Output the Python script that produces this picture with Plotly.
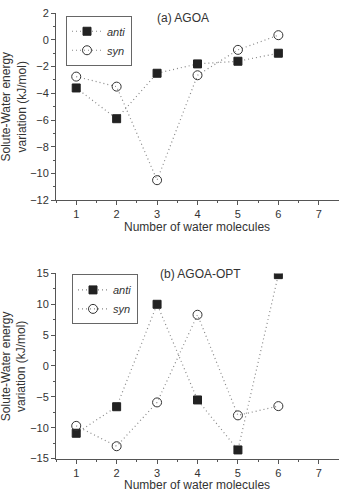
import plotly.graph_objects as go

water = [1, 2, 3, 4, 5, 6]
agoa_anti = [-3.6, -5.9, -2.5, -1.8, -1.6, -1.0]
agoa_syn = [-2.75, -3.5, -10.5, -2.65, -0.75, 0.35]
opt_anti = [-10.9, -6.6, 10.0, -5.5, -13.6, 14.8]
opt_syn = [-9.7, -13.0, -5.9, 8.3, -8.0, -6.5]

FONT = "Liberation Sans, Arial, sans-serif"
TXT = "#333333"
AX = "#555555"
L = 56
W = 339 - L

fig = go.Figure()

def add_pair(anti, syn, xa, ya, leg):
    fig.add_trace(go.Scatter(
        x=water, y=anti, name="<i>anti</i>", mode="lines+markers",
        line=dict(color="#888888", width=1.2, dash="1px,3px"),
        marker=dict(symbol="square", size=8, color="#222222",
                    line=dict(color="#222222", width=1)),
        xaxis=xa, yaxis=ya, legend=leg))
    fig.add_trace(go.Scatter(
        x=water, y=syn, name="<i>syn</i>", mode="lines+markers",
        line=dict(color="#888888", width=1.2, dash="1px,3px"),
        marker=dict(symbol="circle-open", size=9, color="#333333",
                    line=dict(color="#333333", width=1)),
        xaxis=xa, yaxis=ya, legend=leg))

add_pair(agoa_anti, agoa_syn, "x", "y", "legend")
add_pair(opt_anti, opt_syn, "x2", "y2", "legend2")

xcommon = dict(range=[0.5, 7.5], tickvals=[1, 2, 3, 4, 5, 6, 7],
               ticks="outside", ticklen=4, tickcolor=AX, showline=True,
               linecolor=AX, linewidth=1, showgrid=False, zeroline=False,
               tickfont=dict(family=FONT, size=11, color=TXT),
               minor=dict(dtick=0.5, tick0=0.5, ticks="outside", ticklen=2, tickcolor=AX),
               domain=[0, 1])

legcommon = dict(xref="paper", yref="paper", xanchor="left", yanchor="top",
                 bordercolor="#666666", borderwidth=1, bgcolor="white",
                 font=dict(family=FONT, size=11, color=TXT),
                 tracegroupgap=0, itemwidth=30)

fig.update_layout(
    width=339, height=500,
    margin=dict(l=L, r=0, t=0, b=0),
    paper_bgcolor="white", plot_bgcolor="white",
    showlegend=True,
    xaxis=dict(**xcommon, anchor="y"),
    xaxis2=dict(**xcommon, anchor="y2"),
    yaxis=dict(domain=[0.602, 0.9854], range=[-12, 2], dtick=2,
               ticks="outside", ticklen=4, tickcolor=AX, showline=True,
               linecolor=AX, linewidth=1, showgrid=False, zeroline=False,
               tickfont=dict(family=FONT, size=11, color=TXT),
               minor=dict(dtick=1, ticks="outside", ticklen=2, tickcolor=AX),
               anchor="x"),
    yaxis2=dict(domain=[0.0726, 0.452], range=[-15, 15], dtick=5,
                ticks="outside", ticklen=4, tickcolor=AX, showline=True,
                linecolor=AX, linewidth=1, showgrid=False, zeroline=False,
                tickfont=dict(family=FONT, size=11, color=TXT),
                minor=dict(dtick=2.5, ticks="outside", ticklen=2, tickcolor=AX),
                anchor="x2"),
    legend=dict(**legcommon, x=(66 - L) / W, y=1 - 10 / 500),
    legend2=dict(**legcommon, x=(72 - L) / W, y=1 - 275 / 500),
)

def ann(text, xp, yp, angle=0, size=12):
    fig.add_annotation(text=text, x=(xp - L) / W, y=1 - yp / 500,
                       xref="paper", yref="paper",
                       showarrow=False, textangle=angle,
                       font=dict(family=FONT, size=size, color=TXT),
                       xanchor="center", yanchor="middle")

ann("(a) AGOA", 183, 12)
ann("(b) AGOA-OPT", 200, 275)
ann("Number of water molecules", 197, 226)
ann("Number of water molecules", 197, 491)
ann("Solute-Water energy<br>variation (kJ/mol)", 14, 103, angle=-90)
ann("Solute-Water energy<br>variation (kJ/mol)", 14, 369, angle=-90)

fig.write_html("out.html")
